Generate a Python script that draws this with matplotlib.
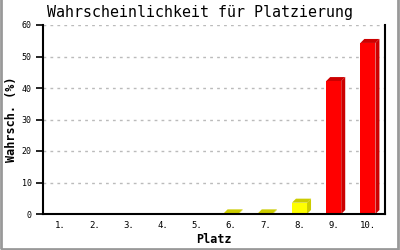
import matplotlib
matplotlib.use("Agg")
import matplotlib.pyplot as plt
from matplotlib.patches import Polygon, Rectangle

categories = ["1.", "2.", "3.", "4.", "5.", "6.", "7.", "8.", "9.", "10."]
values = [0, 0, 0, 0, 0, 0.2, 0.2, 3.6, 42.2, 54.3]
front_colors = ["#FFFF00"] * 8 + ["#FF0000"] * 2
side_colors = ["#CCCC00"] * 8 + ["#CC0000"] * 2
yticks = [0, 10, 20, 30, 40, 50, 60]

fig = plt.figure(figsize=(4, 2.5), dpi=100)
ax = fig.add_axes([0.1075, 0.144, 0.855, 0.756])
mono = "DejaVu Sans Mono"

n = len(categories)
ax.set_xlim(-0.5, n - 0.5)
ax.set_ylim(0, 60)
width = 0.44
# depth offset: 4 px in each direction
ax_w_px = 0.855 * 400
ax_h_px = 0.756 * 250
dx = 4 / ax_w_px * n
dy = 4 / ax_h_px * 60

for y in yticks[1:]:
    ax.axhline(y, color="#bbbbbb", lw=1, ls=(0, (2, 3)), zorder=0)

for i, v in enumerate(values):
    if v <= 0:
        continue
    x0 = i - width / 2
    x1 = i + width / 2
    side = Polygon([(x1, 0), (x1 + dx, dy), (x1 + dx, v + dy), (x1, v)],
                   closed=True, facecolor=side_colors[i], edgecolor="none", zorder=2)
    top = Polygon([(x0, v), (x0 + dx, v + dy), (x1 + dx, v + dy), (x1, v)],
                  closed=True, facecolor=side_colors[i], edgecolor="none", zorder=2)
    ax.add_patch(side)
    ax.add_patch(top)
ax.bar(range(n), values, width=width, color=front_colors, zorder=3, linewidth=0)

ax.spines["top"].set_visible(False)
for s in ["left", "bottom", "right"]:
    ax.spines[s].set_linewidth(1.5)
    ax.spines[s].set_color("black")
    ax.spines[s].set_zorder(5)

ax.set_yticks(yticks)
ax.set_yticklabels([str(t) for t in yticks], fontfamily=mono, fontsize=6)
ax.tick_params(axis="y", length=5, width=1.2, pad=3)
ax.set_xticks(range(n))
ax.set_xticklabels(categories, fontfamily=mono, fontsize=6.5)
ax.tick_params(axis="x", length=0, pad=5)

ax.set_xlabel("Platz", fontfamily=mono, fontsize=8.5, fontweight="bold")
ax.xaxis.set_label_coords(0.5, -0.10)
ax.set_ylabel("Wahrsch. (%)", fontfamily=mono, fontsize=8.5, fontweight="bold")
ax.yaxis.set_label_coords(-0.072, 0.5)

fig.text(0.5, 0.948, "Wahrscheinlichkeit für Platzierung", ha="center", va="center",
         fontfamily=mono, fontsize=10.8)

# outer gray border
fig.patches.append(Rectangle((0.002, 0.004), 0.994, 1.2, transform=fig.transFigure,
                             fill=False, edgecolor="#999999", lw=2))

fig.savefig("out.png", dpi=100)
